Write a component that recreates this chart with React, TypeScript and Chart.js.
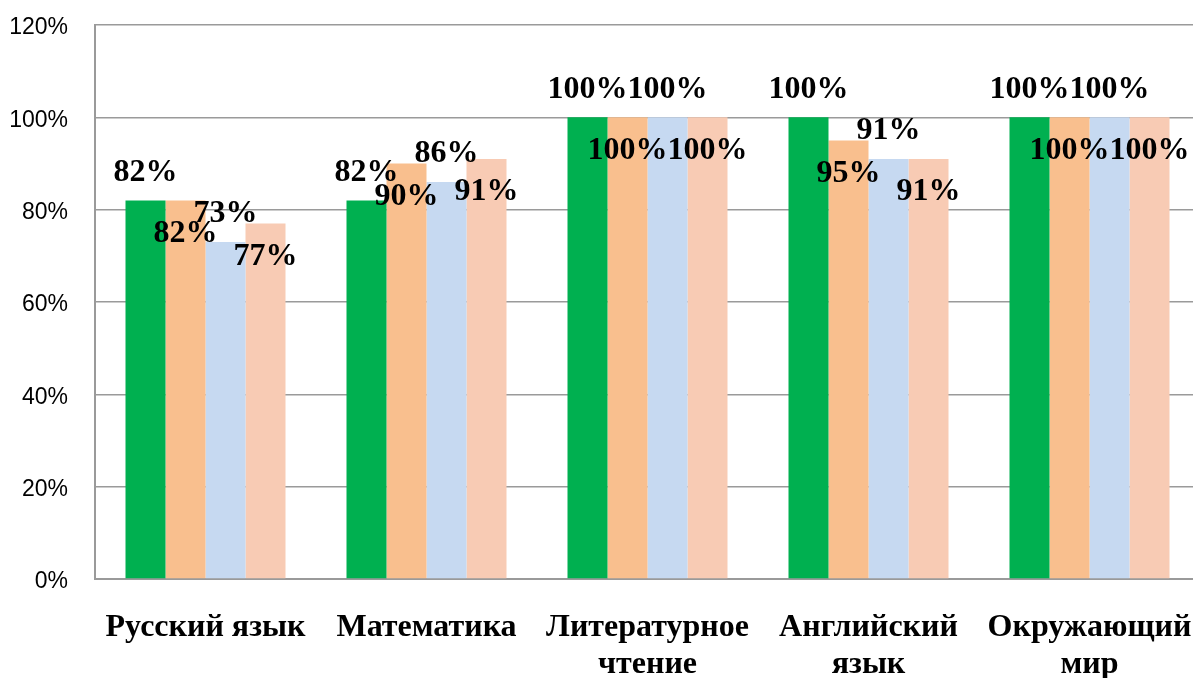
import React, { useEffect, useRef } from "react";
import { Chart, registerables } from "chart.js";

Chart.register(...registerables);

const categories: (string | string[])[] = [
  "Русский язык",
  "Математика",
  ["Литературное", "чтение"],
  ["Английский", "язык"],
  ["Окружающий", "мир"],
];

const series1 = [82, 82, 100, 100, 100];
const series2 = [82, 90, 100, 95, 100];
const series3 = [73, 86, 100, 91, 100];
const series4 = [77, 91, 100, 91, 100];

const seriesColors = ["#00B050", "#F9BF8E", "#C6D9F1", "#F8CBB4"];
const yTicks = [0, 20, 40, 60, 80, 100, 120];

const labelPlugin = {
  id: "barLabels",
  afterDatasetsDraw(chart: any) {
    const ctx = chart.ctx;
    ctx.save();
    ctx.font = "bold 32px 'Liberation Serif', 'Times New Roman', serif";
    ctx.fillStyle = "#000";
    ctx.textAlign = "center";
    ctx.textBaseline = "middle";
    chart.data.datasets.forEach((ds: any, di: number) => {
      const meta = chart.getDatasetMeta(di);
      meta.data.forEach((bar: any, i: number) => {
        const v = ds.data[i];
        const y = di % 2 === 0 ? bar.y - 28 : bar.y + 33;
        ctx.fillText(v + "%", bar.x, y);
      });
    });
    ctx.restore();
  },
};

export default function App() {
  const ref = useRef<HTMLCanvasElement | null>(null);
  useEffect(() => {
    if (!ref.current) return;
    const chart = new Chart(ref.current, {
      type: "bar",
      data: {
        labels: categories,
        datasets: [series1, series2, series3, series4].map((d, i) => ({
          label: "s" + (i + 1),
          data: d,
          backgroundColor: seriesColors[i],
          borderWidth: 0,
          categoryPercentage: 0.724,
          barPercentage: 1,
        })),
      },
      options: {
        animation: false,
        responsive: false,
        devicePixelRatio: 1,
        layout: { padding: { top: 25, left: 0, right: 0, bottom: 0 } },
        plugins: { legend: { display: false }, tooltip: { enabled: false } },
        scales: {
          x: {
            grid: { display: false, drawTicks: false },
            border: { display: true, color: "#9a9a9a", width: 2 },
            ticks: {
              autoSkip: false,
              maxRotation: 0,
              padding: 30,
              color: "#000",
              font: { family: "'Liberation Serif', 'Times New Roman', serif", size: 32, weight: "bold", lineHeight: 1.16 },
            },
            afterFit: (s: any) => {
              s.height = 99;
              s.paddingLeft = 0;
              s.paddingRight = 0;
            },
          },
          y: {
            min: 0,
            max: 120,
            afterBuildTicks: (s: any) => {
              s.ticks = yTicks.map((v) => ({ value: v }));
            },
            grid: { color: "#9a9a9a", lineWidth: 1.5, drawTicks: false },
            border: { display: true, color: "#9a9a9a", width: 2 },
            ticks: {
              padding: 27,
              labelOffset: 3,
              color: "#000",
              font: { family: "'Liberation Sans', Arial, sans-serif", size: 23 },
              callback: (v: any) => v + "%",
            },
            afterFit: (s: any) => {
              s.width = 95;
              s.paddingTop = 0;
              s.paddingBottom = 0;
            },
          },
        },
      },
      plugins: [labelPlugin],
    });
    return () => chart.destroy();
  }, []);
  return (
    <div style={{ position: "fixed", left: 0, top: 0, width: 1193, height: 678, overflow: "hidden", background: "#fff" }}>
      <canvas ref={ref} width={1200} height={678} style={{ display: "block" }} />
    </div>
  );
}
